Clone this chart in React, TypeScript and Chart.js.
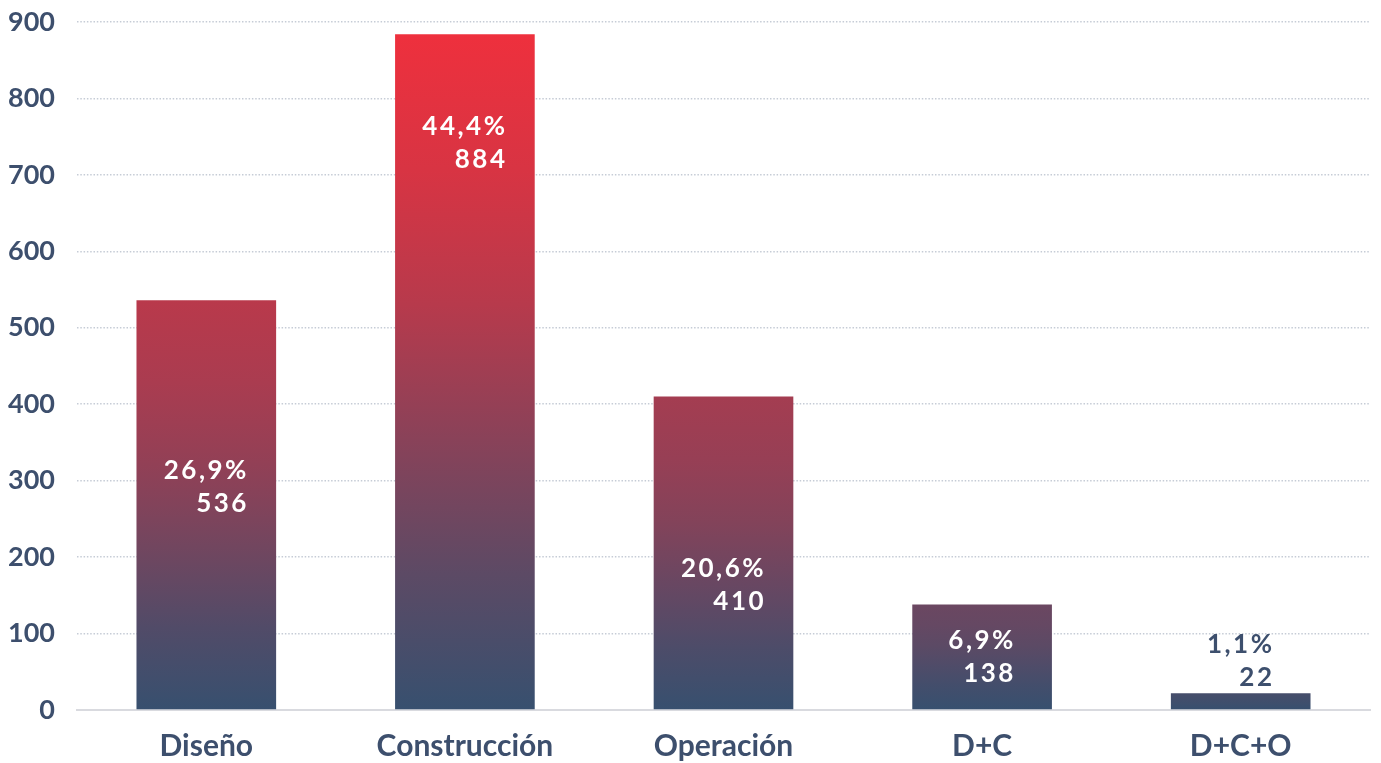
import React, { useEffect, useRef } from "react";
import { Chart, registerables } from "chart.js";

Chart.register(...registerables);

const categories = ["Diseño", "Construcción", "Operación", "D+C", "D+C+O"];
const values = [536, 884, 410, 138, 22];
// value (in axis units) at which each two-line label block is centred
const labelAt = [291, 742, 164, 69, 64];
const yTicks = [0, 100, 200, 300, 400, 500, 600, 700, 800, 900];

const BLUE = [55, 80, 111];
const RED = [238, 48, 61];
const TEXT = "#3d4f6d";
const FONT = "Lato, 'Open Sans', sans-serif";

function mix(t: number) {
  const c = BLUE.map((b, i) => Math.round(b + (RED[i] - b) * t));
  return `rgb(${c[0]},${c[1]},${c[2]})`;
}

const total = values.reduce((a, b) => a + b, 0);
const pct = values.map((v) => ((v / total) * 100).toFixed(1).replace(".", ",") + "%");

const labelPlugin = {
  id: "barLabels",
  afterDatasetsDraw(chart: any) {
    const ctx = chart.ctx;
    const meta = chart.getDatasetMeta(0);
    const ys = chart.scales.y;
    ctx.save();
    ctx.font = `bold 26px ${FONT}`;
    (ctx as any).letterSpacing = "2.5px";
    ctx.textBaseline = "middle";
    ctx.textAlign = "right";
    meta.data.forEach((bar: any, i: number) => {
      const l1 = pct[i];
      const l2 = String(values[i]);
      const w = Math.max(ctx.measureText(l1).width, ctx.measureText(l2).width);
      const right = bar.x + w / 2;
      const cy = ys.getPixelForValue(labelAt[i]);
      ctx.fillStyle = labelAt[i] < values[i] ? "#ffffff" : TEXT;
      ctx.fillText(l1, right, cy - 16.5);
      ctx.fillText(l2, right, cy + 16.5);
    });
    ctx.restore();
  },
};

export default function App() {
  const ref = useRef<HTMLCanvasElement>(null);
  useEffect(() => {
    document.body.style.margin = "0";
    const maxV = Math.max(...values);
    const chart = new Chart(ref.current!, {
      type: "bar",
      data: {
        labels: categories,
        datasets: [
          {
            data: values,
            backgroundColor: (c: any) => {
              const chart = c.chart;
              const area = chart.chartArea;
              if (!area || c.dataIndex === undefined) return mix(0);
              const v = values[c.dataIndex];
              const y0 = chart.scales.y.getPixelForValue(0);
              const y1 = chart.scales.y.getPixelForValue(v);
              const top = Math.pow(v / maxV, 0.68);
              const g = chart.ctx.createLinearGradient(0, y0, 0, y1);
              const curve = [0, 0.2, 0.45, 0.7, 0.88, 1];
              curve.forEach((m, k) => g.addColorStop(k / (curve.length - 1), mix(m * top)));
              return g;
            },
            barPercentage: 0.54,
            categoryPercentage: 1,
          },
        ],
      },
      options: {
        animation: false,
        responsive: false,
        maintainAspectRatio: false,
        layout: { padding: { top: 22, right: 11, left: 0, bottom: 0 } },
        plugins: { legend: { display: false }, tooltip: { enabled: false } },
        scales: {
          x: {
            grid: { display: false, drawTicks: false },
            border: { display: true, color: "#d9dadf", width: 2 },
            ticks: { color: TEXT, font: { family: FONT, size: 30, weight: "bold" }, padding: 18 },
            afterFit: (s: any) => {
              s.height = 53;
              s.paddingLeft = 0;
              s.paddingRight = 0;
            },
          },
          y: {
            min: 0,
            max: 900,
            afterBuildTicks: (s: any) => {
              s.ticks = yTicks.map((v) => ({ value: v }));
            },
            afterFit: (s: any) => {
              s.width = 77;
              s.paddingTop = 0;
              s.paddingBottom = 0;
            },
            grid: {
              drawTicks: false,
              color: (c: any) => (c.tick && c.tick.value === 0 ? "rgba(0,0,0,0)" : "#c6ccd6"),
              lineWidth: 1.5,
            },
            border: { display: false, dash: [1.5, 1.8] },
            ticks: {
              color: TEXT,
              font: { family: FONT, size: 27, weight: "bold" },
              padding: 22,
            },
          },
        },
      },
      plugins: [labelPlugin],
    });
    return () => chart.destroy();
  }, []);
  return (
    <div style={{ width: 1381, height: 763 }}>
      <canvas ref={ref} width={1381} height={763} style={{ width: 1381, height: 763, display: "block" }} />
    </div>
  );
}
